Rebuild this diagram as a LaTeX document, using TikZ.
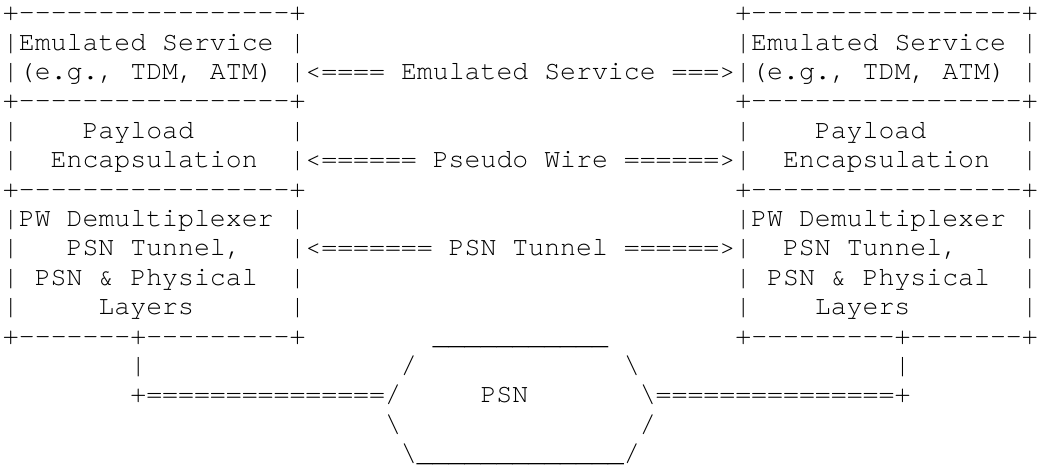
\documentclass[tikz,border=0pt]{standalone}
\usepackage{fontspec}
\setmonofont{TeX Gyre Cursor}
\frenchspacing
\newlength\charw
\setlength\charw{7.96pt}
\newcommand\sk[1]{\hspace*{#1\charw}}
\newcommand\us{\_}
\newcommand\bs{\textbackslash}
\begin{document}
\begin{tikzpicture}[x=0.5pt,y=-0.5pt,
  row/.style={anchor=base west,inner sep=0pt,outer sep=0pt,text=black,
    font=\ttfamily\fontsize{13.267pt}{14pt}\selectfont}]
\useasboundingbox[fill=white] (0,0) rectangle (1039,467);
\node[row] (r1) at (3,20.6) {+-----------------+\sk{27}+-----------------+};
\node[row] (r2) at (3,50.0) {|Emulated Service |\sk{27}|Emulated Service |};
\node[row] (r3) at (3,79.4) {|(e.g., TDM, ATM) |<==== Emulated Service ===>|(e.g., TDM, ATM) |};
\node[row] (r4) at (3,108.8) {+-----------------+\sk{27}+-----------------+};
\node[row] (r5) at (3,138.2) {|\sk{4}Payload\sk{6}|\sk{27}|\sk{4}Payload\sk{6}|};
\node[row] (r6) at (3,167.6) {|\sk{2}Encapsulation\sk{2}|<====== Pseudo Wire ======>|\sk{2}Encapsulation\sk{2}|};
\node[row] (r7) at (3,197.0) {+-----------------+\sk{27}+-----------------+};
\node[row] (r8) at (3,226.4) {|PW Demultiplexer |\sk{27}|PW Demultiplexer |};
\node[row] (r9) at (3,255.8) {|\sk{3}PSN Tunnel,\sk{3}|<======= PSN Tunnel ======>|\sk{2}PSN Tunnel,\sk{4}|};
\node[row] (r10) at (3,285.2) {|\sk{1}PSN \& Physical\sk{2}|\sk{27}|\sk{1}PSN \& Physical\sk{2}|};
\node[row] (r11) at (3,314.6) {|\sk{5}Layers\sk{6}|\sk{27}|\sk{4}Layers\sk{7}|};
\node[row] (r12) at (3,344.0) {+-------+---------+\sk{8}\us\us\us\us\us\us\us\us\us\us\us\sk{8}+---------+-------+};
\node[row] (r13) at (3,373.4) {\sk{8}|\sk{16}/\sk{13}\bs\sk{16}|};
\node[row] (r14) at (3,402.8) {\sk{8}+===============/\sk{5}PSN\sk{7}\bs===============+};
\node[row] (r15) at (3,432.2) {\sk{24}\bs\sk{15}/};
\node[row] (r16) at (3,461.6) {\sk{25}\bs\us\us\us\us\us\us\us\us\us\us\us\us\us/};
\end{tikzpicture}
\end{document}
